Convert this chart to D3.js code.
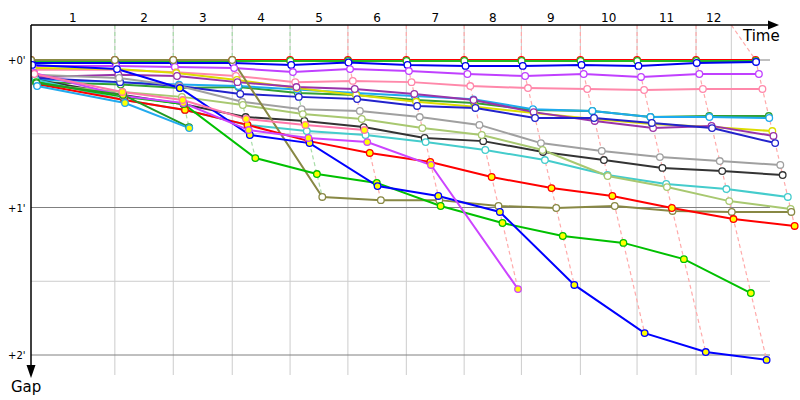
<!DOCTYPE html>
<html><head><meta charset="utf-8">
<script src="https://cdn.jsdelivr.net/npm/d3@7"></script>
<style>body{margin:0;background:#fff}</style>
</head><body><svg id="c" width="800" height="400"></svg>
<script>
// ---- data (gaps in seconds, one value per column: start, after stage 1..12) ----
const stageLabels = ["1","2","3","4","5","6","7","8","9","10","11","12"];
const gridTimes   = [0,145,246,348,448,548,649,749,848,950,1048,1150,1211];
const columnTimes = [0,145,246,348,448,548,649,749,848,950,1048,1150,1253];
const gapTicks = [0,60,120];
const gapTickLabels = ["+0'","+1'","+2'"];
const halfTicks = [30,90];

const gapsRed       = [0,0,0,0,0,0,0,0,0,0,0,0,0];
const gapsGreen     = [0.4,0.4,0.4,0.4,0.4,0.4,0.4,0.4,0.4,0.4,0.4,0.4,0.4];
const gapsBlue      = [1.2,1.2,1.2,1.2,2,1,2,2.4,2.4,2,2.4,1.2,0.8];
const gapsViolet    = [2.4,2.4,2.8,3.3,4.9,3.7,4.5,5.7,6.5,5.7,6.9,5.7,5.7];
const gapsPink      = [4,4,5,6.5,9,8.5,9,10.6,11.4,11.8,12.2,11.8,11.8];
const gapsDarkGreen = [9,10,11.4,11,13.4,14.2,16.3,17.5,20.3,20.7,23.2,22.8,22.8];
const gapsSky       = [8,9,10,10.6,12,13.4,14.6,16,20,20.7,23.2,23.2,23.6];
const gapsYellow    = [3.3,3.7,5.3,8.1,11.4,14.2,17,19,21.6,24,26,27.3,28.9];
const gapsPurple    = [7,6,6.5,9,11,11.8,13.8,16.3,21.2,24.8,27.7,26.8,30.9];
const gapsNavy      = [7.3,9,10.6,13.8,15,15.9,18.7,19.5,23.6,23.6,25.6,27.7,33.8];
const gapsGray      = [6,7.3,10.6,17,20,20.7,23.2,26.4,33.8,37,39.5,41.1,42.7];
const gapsBlack     = [8,14.2,18,23.2,24.8,27.3,31.7,33,37.4,40.7,43.9,45.2,46.8];
const gapsCyan      = [8,16.3,20.3,26.4,28.9,30.5,33.4,36.6,40.7,46.8,50.4,52.5,55.7];
const gapsLime      = [10,13,15,18.3,22,24,27.7,30.5,36.6,47.2,51.7,57.4,60.6];
const gapsOlive     = [0,0,0,0,55.7,57,57,59.4,60.2,59.4,61.4,61.8,61.8];
const gapsRed2      = [9.8,16.3,20.3,26.4,33,37.8,41.5,47.6,52.1,55.3,60.2,64.7,67.5];
const gapsGreen2    = [9,15,17.9,39.9,46.4,50,59.4,66.3,71.6,74.4,81,94.8,null];
const gapsBlue2     = [2,3.7,11.4,30.5,33.8,51.3,55.3,61.8,91.5,111.1,118.8,122,null];
const gapsMagenta   = [5.3,14.6,17.5,28.5,31.7,33.4,42.7,93.2,null,null,null,null,null];
const gapsSky2      = [10.6,17.5,27.7,null,null,null,null,null,null,null,null,null,null];
const gapsForest    = [9.4,14.2,27.3,null,null,null,null,null,null,null,null,null,null];
const gapsHotPink   = [5.7,13,16.3,24,26.4,28.5,null,null,null,null,null,null,null];

const seriesGaps   = [gapsRed,gapsGreen,gapsBlue,gapsViolet,gapsPink,gapsDarkGreen,gapsSky,gapsYellow,gapsPurple,gapsNavy,gapsGray,gapsBlack,gapsCyan,gapsLime,gapsOlive,gapsRed2,gapsGreen2,gapsBlue2,gapsMagenta,gapsForest,gapsSky2,gapsHotPink];
const seriesColors = ["#ff0000","#22bb22","#0000ee","#c040ff","#ff88aa","#33a033","#1eaaee","#dddd00","#9933aa","#2222cc","#a0a0a0","#333333","#44cccc","#a8c870","#888844","#ff0000","#00c000","#0000ff","#cc44ff","#229922","#22aaee","#ff77aa"];
const seriesYellow = [0,0,0,0,0,0,0,0,0,0,0,0,0,0,0,1,1,1,1,1,1,1];

(function(){
// ---- layout ----
const svg = d3.select("#c");
const leftX = 31, topY = 25;
const x = d3.scaleLinear().domain([0,1290]).range([31,777]);
const y = d3.scaleLinear().domain([0,120]).range([60,355]);
const gridRight = 770, gridBottom = 375;
const font = "DejaVu Sans, Verdana, sans-serif";

const defs = svg.append("defs");
defs.append("clipPath").attr("id","plot").append("rect")
  .attr("x",leftX).attr("y",topY).attr("width",800-leftX).attr("height",400-topY);

// vertical grid
svg.append("g").selectAll("line").data(gridTimes.slice(1)).join("line")
  .attr("x1",d=>x(d)).attr("x2",d=>x(d)).attr("y1",topY).attr("y2",gridBottom)
  .attr("stroke","#cccccc").attr("stroke-width",1);
// horizontal grid
svg.append("g").selectAll("line").data(halfTicks).join("line")
  .attr("x1",leftX).attr("x2",gridRight).attr("y1",d=>y(d)).attr("y2",d=>y(d))
  .attr("stroke","#cccccc").attr("stroke-width",1);
svg.append("g").selectAll("line").data(gapTicks).join("line")
  .attr("x1",leftX).attr("x2",gridRight).attr("y1",d=>y(d)).attr("y2",d=>y(d))
  .attr("stroke","#808080").attr("stroke-width",1);

// y tick labels
svg.append("g").selectAll("text").data(gapTicks).join("text")
  .attr("x",8).attr("y",d=>y(d)+4).text((d,i)=>gapTickLabels[i])
  .attr("font-family",font).attr("font-size",10).attr("fill","#000");

// stage labels
svg.append("g").selectAll("text").data(stageLabels).join("text")
  .attr("x",(d,i)=>(x(gridTimes[i])+x(gridTimes[i+1]))/2).attr("y",22)
  .attr("text-anchor","middle").text(d=>d)
  .attr("font-family",font).attr("font-size",12).attr("fill","#000");

// stage dashed lines
const plot = svg.append("g").attr("clip-path","url(#plot)");
for (let k=1;k<columnTimes.length;k++){
  const pts = seriesGaps.map(g=>g[k]).filter(v=>v!=null).sort((a,b)=>a-b);
  const coords = [[x(gridTimes[k]), topY]].concat(pts.map(v=>[x(columnTimes[k]+v), y(v)]));
  plot.append("path").attr("d", d3.line()(coords)).attr("fill","none")
    .attr("stroke", k<=4 ? "#a8dca8" : "#ffaaaa").attr("stroke-width",1.2)
    .attr("stroke-dasharray","4,3");
}

// series lines + points
const order = d3.range(seriesGaps.length);
const line = d3.line().defined(d=>d.g!=null).x(d=>x(columnTimes[d.k]+d.g)).y(d=>y(d.g));
order.forEach(i=>{
  const data = seriesGaps[i].map((g,k)=>({g,k}));
  plot.append("path").attr("d", line(data)).attr("fill","none")
    .attr("stroke", seriesColors[i]).attr("stroke-width",2);
});
order.forEach(i=>{
  const data = seriesGaps[i].map((g,k)=>({g,k})).filter(d=>d.g!=null);
  plot.append("g").selectAll("circle").data(data).join("circle")
    .attr("cx",d=>x(columnTimes[d.k]+d.g)).attr("cy",d=>y(d.g)).attr("r",3.3)
    .attr("fill",d=> (seriesYellow[i] && d.k>=1 && !(i===17 && d.k===1)) ? "#ffff00" : "#ffffff")
    .attr("stroke",seriesColors[i]).attr("stroke-width",1.3);
});

// axes
svg.append("line").attr("x1",leftX).attr("x2",770).attr("y1",topY).attr("y2",topY)
  .attr("stroke","#000").attr("stroke-width",1.5);
svg.append("path").attr("d","M768,20.5L779,25L768,29.5Z").attr("fill","#000");
svg.append("line").attr("x1",leftX).attr("x2",leftX).attr("y1",topY).attr("y2",368)
  .attr("stroke","#000").attr("stroke-width",1.5);
svg.append("path").attr("d","M26.5,365L31,378L35.5,365Z").attr("fill","#000");
svg.append("text").attr("x",743).attr("y",41).text("Time")
  .attr("font-family",font).attr("font-size",15);
svg.append("text").attr("x",11).attr("y",392).text("Gap")
  .attr("font-family",font).attr("font-size",15);
})();
</script></body></html>
